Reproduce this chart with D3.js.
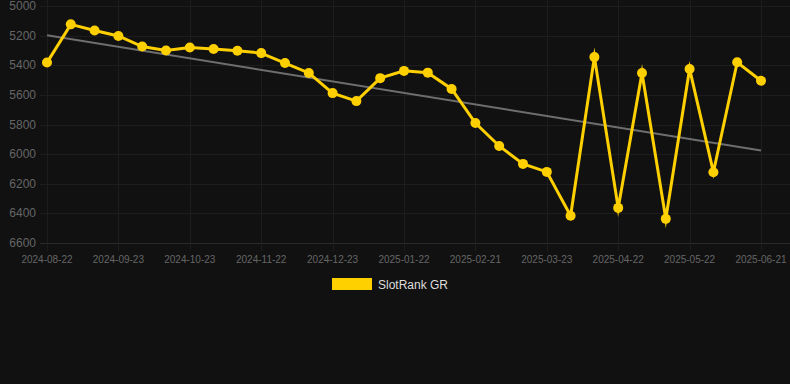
<!DOCTYPE html>
<html lang="en">
<head>
<meta charset="UTF-8">
<title>SlotRank GR</title>
<script src="https://d3js.org/d3.v7.min.js"></script>
<style>
    html, body { margin: 0; padding: 0; background: #111111; }
    svg { display: block; font-family: "Liberation Sans", Arial, sans-serif; }
    .grid line { stroke: #1d1d1d; stroke-width: 1; }
    .tick-label { fill: #666666; }
</style>
</head>
<body>
<div id="chart"></div>
<script>
    // Fechas (eje categórico, una etiqueta cada 3 puntos)
    const dates = [
        "2024-08-22", "2024-09-01", "2024-09-12", "2024-09-23", "2024-10-03", "2024-10-13",
        "2024-10-23", "2024-11-02", "2024-11-12", "2024-11-22", "2024-12-02", "2024-12-12",
        "2024-12-23", "2025-01-02", "2025-01-12", "2025-01-22", "2025-02-01", "2025-02-11",
        "2025-02-21", "2025-03-03", "2025-03-13", "2025-03-23", "2025-04-02", "2025-04-12",
        "2025-04-22", "2025-05-02", "2025-05-12", "2025-05-22", "2025-06-01", "2025-06-11",
        "2025-06-21"
    ];

    // Ranking
    const ranks = [
        5382, 5124, 5165, 5202, 5274, 5300, 5280, 5290, 5302, 5318,
        5385, 5452, 5588, 5642, 5487, 5438, 5450, 5560, 5790, 5945,
        6066, 6120, 6416, 5345, 6363, 5452, 6437, 5425, 6122, 5380,
        5505
    ];

    // Línea de tendencia (inicio y fin)
    const trendValues = [5198, 5975];

    const yTicks = [5000, 5200, 5400, 5600, 5800, 6000, 6200, 6400, 6600];
    const seriesName = "SlotRank GR";

    const width = 790, height = 384;
    const margin = { top: 6, right: 29, bottom: 141, left: 47 };

    const svg = d3.select("#chart").append("svg")
        .attr("width", width)
        .attr("height", height);

    const x = d3.scalePoint()
        .domain(dates)
        .range([margin.left, width - margin.right]);

    const y = d3.scaleLinear()
        .domain([5000, 6600])
        .range([margin.top, height - margin.bottom]);

    // Rejilla horizontal
    const grid = svg.append("g").attr("class", "grid");
    grid.selectAll(".h")
        .data(yTicks)
        .enter().append("line")
        .attr("x1", 40)
        .attr("x2", width)
        .attr("y1", d => Math.round(y(d)) + 0.5)
        .attr("y2", d => Math.round(y(d)) + 0.5)
        .style("stroke", d => d === 6600 ? "#2a2a2a" : null);

    // Rejilla vertical (cada 3 fechas)
    const xTickDates = dates.filter((d, i) => i % 3 === 0);
    grid.selectAll(".v")
        .data(xTickDates)
        .enter().append("line")
        .attr("x1", d => Math.round(x(d)) + 0.5)
        .attr("x2", d => Math.round(x(d)) + 0.5)
        .attr("y1", 0)
        .attr("y2", y(6600) + 8);

    // Etiquetas eje Y
    svg.append("g").selectAll("text")
        .data(yTicks)
        .enter().append("text")
        .attr("class", "tick-label")
        .attr("x", 36)
        .attr("y", d => y(d) + 4)
        .attr("text-anchor", "end")
        .attr("font-size", 12)
        .text(d => d);

    // Etiquetas eje X
    svg.append("g").selectAll("text")
        .data(xTickDates)
        .enter().append("text")
        .attr("class", "tick-label")
        .attr("x", d => x(d))
        .attr("y", y(6600) + 20)
        .attr("text-anchor", "middle")
        .attr("font-size", 10)
        .text(d => d);

    // Tendencia
    svg.append("line")
        .attr("x1", x(dates[0]))
        .attr("y1", y(trendValues[0]))
        .attr("x2", x(dates[dates.length - 1]))
        .attr("y2", y(trendValues[1]))
        .attr("stroke", "#6e6e6e")
        .attr("stroke-width", 2);

    // Serie
    const line = d3.line()
        .x((d, i) => x(dates[i]))
        .y(d => y(d));

    svg.append("path")
        .datum(ranks)
        .attr("d", line)
        .attr("fill", "none")
        .attr("stroke", "#ffd000")
        .attr("stroke-width", 3)
        .attr("stroke-linejoin", "miter")
        .attr("stroke-miterlimit", 10);

    svg.append("g").selectAll("circle")
        .data(ranks)
        .enter().append("circle")
        .attr("cx", (d, i) => x(dates[i]))
        .attr("cy", d => y(d))
        .attr("r", 5)
        .attr("fill", "#ffd000");

    // Leyenda
    const legend = svg.append("g");
    legend.append("rect")
        .attr("x", 332)
        .attr("y", 278)
        .attr("width", 40)
        .attr("height", 12)
        .attr("fill", "#ffd000");
    legend.append("text")
        .attr("x", 378)
        .attr("y", 288.5)
        .attr("fill", "#dddddd")
        .attr("font-size", 12)
        .text(seriesName);
</script>
</body>
</html>
